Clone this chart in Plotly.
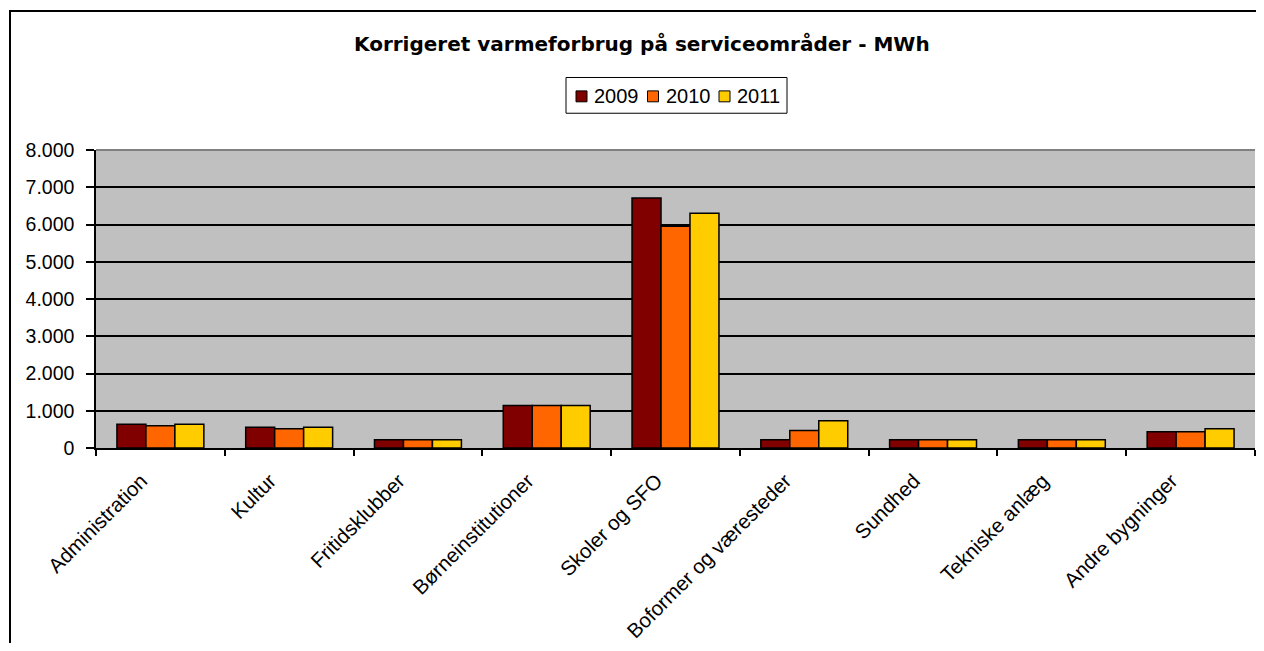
import plotly.graph_objects as go

categories = ["Administration", "Kultur", "Fritidsklubber", "Børneinstitutioner",
              "Skoler og SFO", "Boformer og væresteder", "Sundhed",
              "Tekniske anlæg", "Andre bygninger"]
years = ["2009", "2010", "2011"]
v2009 = [640, 560, 220, 1140, 6710, 220, 220, 220, 435]
v2010 = [600, 515, 220, 1140, 5955, 470, 220, 220, 435]
v2011 = [640, 560, 220, 1140, 6300, 730, 220, 220, 515]
colors = ["#800000", "#FF6600", "#FFCC00"]
y_ticks = [0, 1000, 2000, 3000, 4000, 5000, 6000, 7000, 8000]

# page body has an 8px margin; work in screen pixels and shift
OFF = 8
W, H = 1248, 635
L, R = 96 - OFF, 1
T, B = 150 - OFF, H - (450 - OFF)
pw, ph = W - L - R, H - T - B

def px_x(p):
    return (p - OFF - L) / pw

def px_y(p):
    return (H - B - (p - OFF)) / ph

fig = go.Figure()
for name, vals, col in zip(years, [v2009, v2010, v2011], colors):
    fig.add_trace(go.Bar(x=categories, y=vals, name=name,
                         marker=dict(color=col, line=dict(color="#000000", width=1.5))))

shapes = [
    dict(type="rect", xref="paper", yref="paper",
         x0=px_x(10), x1=px_x(1300), y0=px_y(700), y1=px_y(10),
         line=dict(color="black", width=2), fillcolor="rgba(0,0,0,0)", layer="below"),
    dict(type="line", xref="paper", yref="paper",
         x0=0, x1=1, y0=1, y1=1, line=dict(color="#808080", width=2)),
    # legend box
    dict(type="rect", xref="paper", yref="paper",
         x0=px_x(566), x1=px_x(787), y0=px_y(113), y1=px_y(77),
         line=dict(color="black", width=1), fillcolor="white"),
]
annotations = [dict(text="<b>Korrigeret varmeforbrug på serviceområder - MWh</b>",
                    xref="paper", yref="paper", x=px_x(642), y=px_y(43),
                    xanchor="center", yanchor="middle", showarrow=False,
                    font=dict(family="DejaVu Sans, Verdana", size=20, color="black"))]

# legend entries built from the series names and colours
leg_x0, leg_pitch = 576, 71.5
for i, (name, col) in enumerate(zip(years, colors)):
    mx = leg_x0 + i * leg_pitch
    shapes.append(dict(type="rect", xref="paper", yref="paper",
                       x0=px_x(mx), x1=px_x(mx + 11), y0=px_y(101.5), y1=px_y(90.5),
                       line=dict(color="black", width=1), fillcolor=col))
    annotations.append(dict(text=name, xref="paper", yref="paper",
                            x=px_x(mx + 16), y=px_y(96), xanchor="left",
                            yanchor="middle", showarrow=False,
                            font=dict(family="Liberation Sans, Arial", size=20,
                                      color="black")))

fig.update_layout(
    width=W, height=H,
    margin=dict(l=L, r=R, t=T, b=B),
    paper_bgcolor="white",
    plot_bgcolor="#C0C0C0",
    barmode="group",
    bargap=0.325,
    bargroupgap=0,
    separators=",.",
    font=dict(family="Liberation Sans, Arial", size=19.5, color="black"),
    showlegend=False,
    annotations=annotations,
    shapes=shapes,
)

fig.update_yaxes(range=[0, 8000], tickvals=y_ticks, tickformat=",d",
                 showgrid=True, gridcolor="black", gridwidth=1.5,
                 showline=True, linecolor="black", linewidth=1.5,
                 ticks="outside", ticklen=8, tickcolor="black", tickwidth=1.5,
                 ticklabelstandoff=8,
                 zeroline=False, tickfont=dict(size=19.5))
fig.update_xaxes(showline=True, linecolor="black", linewidth=1.5,
                 ticks="outside", tickson="boundaries", ticklen=6,
                 tickcolor="black", tickwidth=1.5, tickangle=-45,
                 ticklabelshift=-19, ticklabelstandoff=11,
                 tickfont=dict(size=20.5), showgrid=False)

fig.write_html("out.html")
